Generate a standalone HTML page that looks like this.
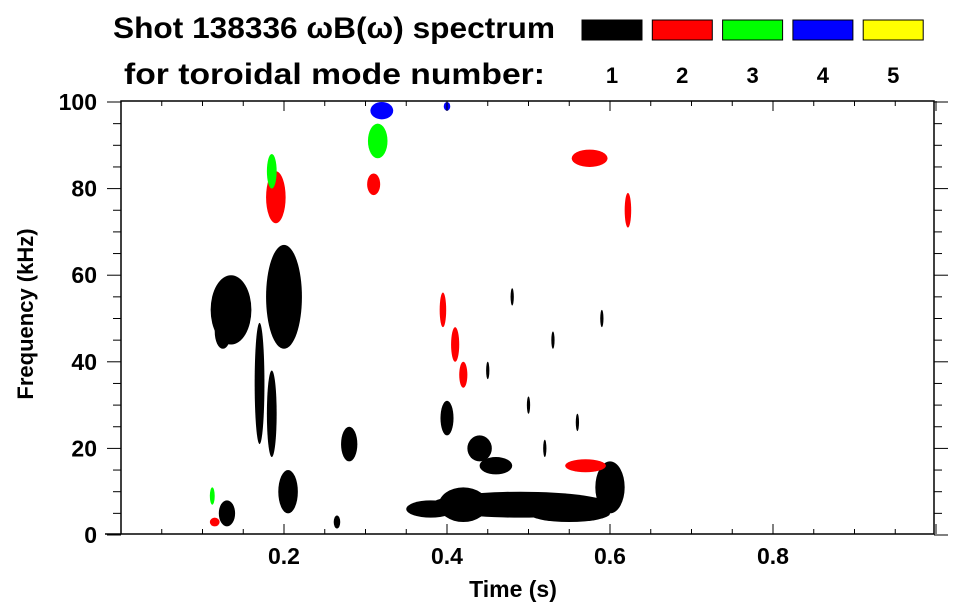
<!DOCTYPE html>
<html><head><meta charset="utf-8"><style>
body{margin:0;background:#fff;}
svg{display:block;font-family:"Liberation Sans",sans-serif;font-weight:bold;}
</style></head><body>
<svg id="c" width="963" height="615">
<text x="113" y="38" font-size="30" textLength="442" lengthAdjust="spacingAndGlyphs">Shot 138336 ωB(ω) spectrum</text>
<text x="124" y="84" font-size="30" textLength="421" lengthAdjust="spacingAndGlyphs">for toroidal mode number:</text>
<g id="legend"></g>
<g id="marks"></g>
<g id="axes"></g>
<text x="513" y="597" font-size="23" text-anchor="middle">Time (s)</text>
<text transform="translate(33,314) rotate(-90)" font-size="22" text-anchor="middle">Frequency (kHz)</text>
</svg>
<script>
const modes=[1,2,3,4,5];
const modeColors=['#000','#f00','#0f0','#00f','#ff0'];
const xTicks=[0.2,0.4,0.6,0.8];
const yTicks=[0,20,40,60,80,100];
// blobs: time(s), freq(kHz), half-width(s), half-height(kHz), mode index
const blobT=[0.20,0.135,0.125,0.17,0.185,0.205,0.28,0.49,0.42,0.40,0.44,0.46,0.60,0.19,0.31,0.575,0.395,0.41,0.42,0.57,0.622,0.315,0.185,0.32,0.40,0.13,0.115,0.112,0.45,0.50,0.53,0.56,0.48,0.52,0.59,0.265,0.38,0.55];
const blobF=[55,52,47,35,28,10,21,7,7,27,20,16,11,78,81,87,52,44,37,16,75,91,84,98,99,5,3,9,38,30,45,26,55,20,50,3,6,5];
const blobW=[0.022,0.025,0.01,0.006,0.006,0.012,0.01,0.11,0.03,0.008,0.015,0.02,0.018,0.012,0.008,0.022,0.004,0.005,0.005,0.025,0.004,0.012,0.006,0.014,0.004,0.01,0.006,0.003,0.002,0.002,0.002,0.002,0.002,0.002,0.002,0.004,0.03,0.05];
const blobH=[12,8,4,14,10,5,4,3,4,4,3,2,6,6,2.5,2,4,4,3,1.5,4,4,4,2,1,3,1,2,2,2,2,2,2,2,2,1.5,2,2];
const blobM=[0,0,0,0,0,0,0,0,0,0,0,0,0,1,1,1,1,1,1,1,1,2,2,3,3,0,1,2,0,0,0,0,0,0,0,0,0,0];
const NS='http://www.w3.org/2000/svg';
const X=t=>121+t*815, Y=f=>535-f*4.33;
function mk(tag,p,a){const e=document.createElementNS(NS,tag);for(const k in a)e.setAttribute(k,a[k]);p.appendChild(e);return e;}
const lg=document.getElementById('legend');
modes.forEach((m,i)=>{
 const r=mk('rect',lg,{x:582+i*70.3,y:20,width:60,height:20,fill:modeColors[i],stroke:'#000','stroke-width':1});
 
 
 const t=mk('text',lg,{x:612+i*70.3,y:83,'font-size':22,'text-anchor':'middle'});t.textContent=m;
 
 
});
const mg=document.getElementById('marks');
blobT.forEach((t,i)=>{
 const e=mk('ellipse',mg,{cx:X(t),cy:Y(blobF[i]),rx:blobW[i]*815,ry:blobH[i]*4.33,fill:modeColors[blobM[i]]});
 
 
});
const ax=document.getElementById('axes');
mk('rect',ax,{x:121,y:101,width:813,height:433,fill:'none',stroke:'#000','stroke-width':1.5});
mk('line',ax,{x1:105,y1:534,x2:121,y2:534,stroke:'#000','stroke-width':1.5});
for(let k=0;k<=20;k++){const x=X(k*0.05),h=(k%4==0)?10:5;
 mk('line',ax,{x1:x,y1:534,x2:x,y2:534-h,stroke:'#000'});mk('line',ax,{x1:x,y1:101,x2:x,y2:101+h,stroke:'#000'});}
for(let k=0;k<=20;k++){const y=Y(k*5),h=(k%4==0)?14:8;
 mk('line',ax,{x1:121,y1:y,x2:121-h,y2:y,stroke:'#000'});mk('line',ax,{x1:934,y1:y,x2:934+h,y2:y,stroke:'#000'});}
xTicks.forEach(v=>{const t=mk('text',ax,{x:X(v),y:564,'font-size':23,'text-anchor':'middle'});t.textContent=v.toFixed(1);
 
 });
yTicks.forEach(v=>{const t=mk('text',ax,{x:97,y:Y(v)+8,'font-size':23,'text-anchor':'end'});t.textContent=v;
 
 });
</script>
</body></html>
